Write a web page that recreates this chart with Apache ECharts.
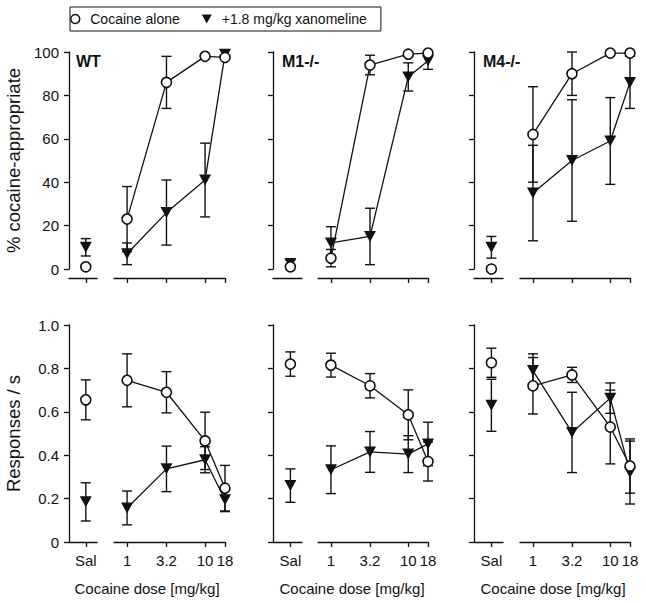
<!DOCTYPE html>
<html><head><meta charset="utf-8">
<script src="https://cdn.jsdelivr.net/npm/echarts@6/dist/echarts.min.js"></script>
<style>html,body{margin:0;padding:0;background:#fff}#c{width:646px;height:603px}</style>
</head><body><div id="c"></div>
<script>
// ---------- data ----------
const panelNames = ['WT', 'M1-/-', 'M4-/-'];
const doses = [1, 3.2, 10, 18];
const salLabel = 'Sal';
const seriesNames = ['Cocaine alone', '+1.8 mg/kg xanomeline'];
const xTitle = 'Cocaine dose [mg/kg]';
const yTitles = ['% cocaine-appropriate', 'Responses / s'];

// top row: % cocaine-appropriate responding (per panel: WT, M1-/-, M4-/-)
const pctCocaine      = [[23, 86, 98, 97.5], [5, 94, 99, 99.5], [62, 90, 99.5, 99.5]];
const pctCocaineErr   = [[15, 12, 0, 0], [4, 4.5, 1, 0.5], [22, 10, 0, 0]];
const pctXan          = [[7, 26, 41, 99], [12, 15, 88.5, 96], [35, 50, 59, 86]];
const pctXanErr       = [[5, 15, 17, 0], [7.5, 13, 6.5, 4], [22, 28, 20, 12]];
const pctSalCocaine    = [1, 1, 0];
const pctSalCocaineErr = [0, 0, 0];
const pctSalXan        = [10, 2.5, 10];
const pctSalXanErr     = [4, 1.6, 5];

// bottom row: response rate (responses / s)
const rateCocaine     = [[0.745, 0.69, 0.466, 0.248], [0.815, 0.72, 0.586, 0.371], [0.72, 0.77, 0.53, 0.35]];
const rateCocaineErr  = [[0.122, 0.095, 0.132, 0.105], [0.055, 0.056, 0.115, 0.09], [0.13, 0.035, 0.17, 0.125]];
const rateXan         = [[0.157, 0.337, 0.379, 0.195], [0.333, 0.415, 0.405, 0.452], [0.79, 0.505, 0.663, 0.32]];
const rateXanErr      = [[0.078, 0.105, 0.06, 0.055], [0.11, 0.094, 0.085, 0.1], [0.077, 0.185, 0.07, 0.145]];
const rateSalCocaine    = [0.655, 0.82, 0.826];
const rateSalCocaineErr = [0.092, 0.056, 0.067];
const rateSalXan        = [0.185, 0.26, 0.63];
const rateSalXanErr     = [0.088, 0.077, 0.12];

// ---------- layout / style ----------
const FONT = "'Liberation Sans', Arial, Helvetica, sans-serif";
const INK = '#111111';
const SAL_POS = 0; // position of the saline category on its own axis
const cols = [
  {salLeft: 69,  salW: 28, doseLeft: 114, doseW: 111, center: 147},
  {salLeft: 273, salW: 29, doseLeft: 318, doseW: 110, center: 352},
  {salLeft: 474, salW: 29, doseLeft: 520, doseW: 110, center: 553}
];
const rows = [
  {top: 52, height: 217, yMax: 100, yInterval: 20, xOffset: 9, showXLabels: false,
   fmt: v => String(v),
   mean: [pctCocaine, pctXan], err: [pctCocaineErr, pctXanErr],
   sal: [pctSalCocaine, pctSalXan], salErr: [pctSalCocaineErr, pctSalXanErr]},
  {top: 325, height: 217, yMax: 1, yInterval: 0.2, xOffset: 0, showXLabels: true,
   fmt: v => (v === 0 ? '0' : (+v).toFixed(1)),
   mean: [rateCocaine, rateXan], err: [rateCocaineErr, rateXanErr],
   sal: [rateSalCocaine, rateSalXan], salErr: [rateSalCocaineErr, rateSalXanErr]}
];

const axisLineStyle = {color: INK, width: 1.3};
const labelStyle = {fontSize: 15, color: INK, fontFamily: FONT};

function errorBars(params, api) {
  const x = api.value(0), y = api.value(1), e = api.value(2);
  if (!e) return null;
  const top = api.coord([x, y + e]);
  const bot = api.coord([x, y - e]);
  const hw = 5;
  const st = {stroke: INK, lineWidth: 1.4, fill: null};
  return {type: 'group', children: [
    {type: 'line', shape: {x1: top[0], y1: top[1], x2: bot[0], y2: bot[1]}, style: st},
    {type: 'line', shape: {x1: top[0] - hw, y1: top[1], x2: top[0] + hw, y2: top[1]}, style: st},
    {type: 'line', shape: {x1: bot[0] - hw, y1: bot[1], x2: bot[0] + hw, y2: bot[1]}, style: st}
  ]};
}

const markerStyles = [
  {symbol: 'circle', symbolSize: 10, symbolRotate: 0,
   itemStyle: {color: '#fff', borderColor: INK, borderWidth: 1.6, opacity: 1}, z: 5},
  {symbol: 'triangle', symbolSize: [12, 11], symbolRotate: 180,
   itemStyle: {color: INK, borderColor: INK, borderWidth: 0, opacity: 1}, z: 4}
];

const grid = [], xAxis = [], yAxis = [], series = [], title = [];

rows.forEach((row, r) => {
  cols.forEach((col, c) => {
    const gi = grid.length;
    grid.push({left: col.salLeft, top: row.top, width: col.salW, height: row.height});
    grid.push({left: col.doseLeft, top: row.top, width: col.doseW, height: row.height});

    xAxis.push({
      gridIndex: gi, type: 'value', min: -0.6, max: 0.4, offset: row.xOffset,
      axisLine: {show: true, onZero: false, lineStyle: axisLineStyle},
      axisTick: {show: !(r === 0 && c === 1), customValues: [SAL_POS], length: 5, lineStyle: axisLineStyle},
      axisLabel: Object.assign({show: row.showXLabels, customValues: [SAL_POS], margin: 11,
        formatter: () => salLabel}, labelStyle),
      splitLine: {show: false}
    });
    xAxis.push({
      gridIndex: gi + 1, type: 'log', logBase: 10, min: 0.68, max: 18, offset: row.xOffset,
      axisLine: {show: true, onZero: false, lineStyle: axisLineStyle},
      axisTick: {show: true, customValues: doses, length: 5, lineStyle: axisLineStyle},
      axisLabel: Object.assign({show: row.showXLabels, customValues: doses, margin: 11,
        formatter: v => String(+(+v).toPrecision(3))}, labelStyle),
      splitLine: {show: false}, minorTick: {show: false}
    });
    yAxis.push({
      gridIndex: gi, type: 'value', min: 0, max: row.yMax, interval: row.yInterval,
      axisLine: {show: true, onZero: false, lineStyle: axisLineStyle},
      axisTick: {show: true, length: 5, lineStyle: axisLineStyle},
      axisLabel: Object.assign({show: c === 0, margin: 10, formatter: row.fmt}, labelStyle),
      splitLine: {show: false},
      name: c === 0 ? yTitles[r] : '', nameLocation: 'middle', nameGap: 46,
      nameTextStyle: {fontSize: 18.5, color: INK, fontFamily: FONT}
    });
    yAxis.push({gridIndex: gi + 1, type: 'value', min: 0, max: row.yMax, show: false});

    [0, 1].forEach(k => {
      const m = markerStyles[k];
      const doseData = doses.map((d, i) => [d, row.mean[k][c][i], row.err[k][c][i]]);
      const salData = [[SAL_POS, row.sal[k][c], row.salErr[k][c]]];
      series.push({type: 'custom', name: seriesNames[k], xAxisIndex: gi + 1, yAxisIndex: gi + 1,
        renderItem: errorBars, data: doseData, z: 2, silent: true, clip: false});
      series.push({type: 'line', name: seriesNames[k], xAxisIndex: gi + 1, yAxisIndex: gi + 1,
        data: doseData.map(p => [p[0], p[1]]), symbol: m.symbol, symbolSize: m.symbolSize,
        symbolRotate: m.symbolRotate, showAllSymbol: true, itemStyle: m.itemStyle,
        lineStyle: {color: INK, width: 1.3}, z: m.z, silent: true, clip: false});
      series.push({type: 'custom', name: seriesNames[k], xAxisIndex: gi, yAxisIndex: gi,
        renderItem: errorBars, data: salData, z: 2, silent: true, clip: false});
      series.push({type: 'scatter', name: seriesNames[k], xAxisIndex: gi, yAxisIndex: gi,
        data: salData.map(p => [p[0], p[1]]), symbol: m.symbol, symbolSize: m.symbolSize,
        symbolRotate: m.symbolRotate, itemStyle: m.itemStyle, z: m.z, silent: true, clip: false});
    });

    if (r === 0) {
      title.push({text: panelNames[c], left: col.salLeft + (c === 0 ? 7 : 9), top: 53, padding: 0,
        textStyle: {fontSize: 16, fontWeight: 'bold', color: INK, fontFamily: FONT}});
    } else {
      title.push({text: xTitle, left: col.center, top: 581, padding: 0, textAlign: 'center',
        textStyle: {fontSize: 15, fontWeight: 'normal', color: INK, fontFamily: FONT}});
    }
  });
});

const option = {
  animation: false,
  backgroundColor: '#fff',
  title, grid, xAxis, yAxis, series,
  legend: {
    left: 70, top: 7, padding: [5, 14, 5, 0], borderColor: INK, borderWidth: 1,
    itemWidth: 20, itemHeight: 9, itemGap: 22, selectedMode: false,
    textStyle: {fontSize: 14, color: INK, fontFamily: FONT},
    data: [
      {name: seriesNames[0], icon: 'circle', itemStyle: {color: '#fff', borderColor: INK, borderWidth: 1.5}},
      {name: seriesNames[1], icon: 'path://M0,0L10,0L5,9Z', itemStyle: {color: INK, borderWidth: 0}}
    ]
  }
};

const chart = echarts.init(document.getElementById('c'), null, {renderer: 'svg', width: 646, height: 603});
chart.setOption(option);
</script>
</body></html>
